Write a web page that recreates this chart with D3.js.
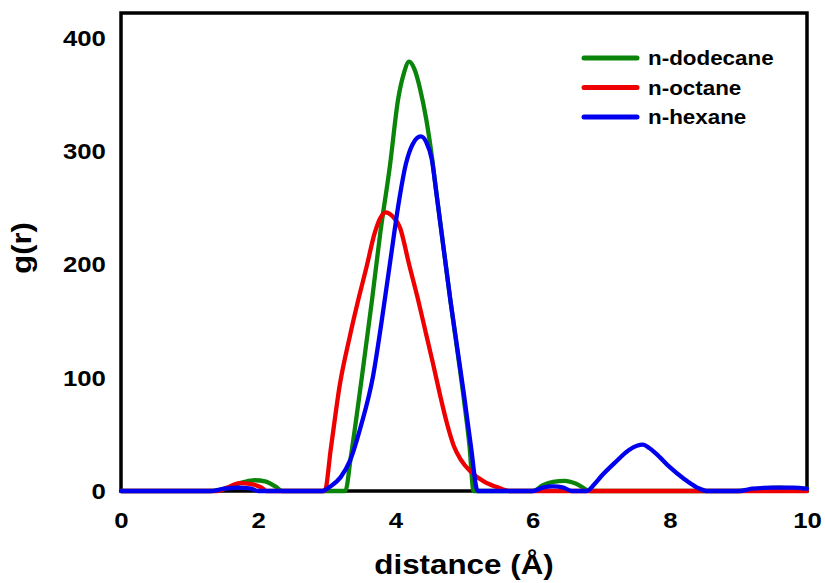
<!DOCTYPE html>
<html><head><meta charset="utf-8">
<script src="https://cdn.jsdelivr.net/npm/d3@7"></script>
<style>body{margin:0;background:#fff}svg{display:block}text{font-family:Arial,"Liberation Sans",sans-serif;font-weight:bold;fill:#000}</style>
</head><body>
<svg id="c" width="825" height="583"></svg>
<script>
// ---- data ----
const xTicks = [0, 2, 4, 6, 8, 10];
const yTicks = [0, 100, 200, 300, 400];
const seriesNames = ["n-dodecane", "n-octane", "n-hexane"];
const seriesColors = ["#0a850a", "#ee0000", "#0000ee"];

const dodecaneX = [0, 1.3, 1.45, 1.6, 1.8, 1.95, 2.1, 2.25, 2.35, 3.27, 3.35, 3.51, 3.66, 3.78, 3.92, 4.04, 4.12, 4.2, 4.28, 4.36, 4.45, 4.53, 4.6, 4.8, 5.0, 5.08, 5.14, 6.0, 6.15, 6.3, 6.47, 6.65, 6.84, 9.0, 9.3, 9.6, 9.9, 10];
const dodecaneY = [0, 0, 1, 4, 8, 9.5, 8.5, 4, 0, 0, 30, 100, 169, 228, 287, 346, 368, 379, 372, 355, 328, 296, 262, 169, 80, 40, 0, 0, 5, 8, 9, 6, 0, 0, 2, 3, 2, 2];

const octaneX = [0, 1.4, 1.55, 1.73, 1.9, 2.05, 2.12, 2.97, 3.06, 3.19, 3.33, 3.46, 3.58, 3.70, 3.78, 3.86, 3.95, 4.07, 4.2, 4.33, 4.45, 4.55, 4.65, 4.75, 4.85, 4.95, 5.1, 5.3, 5.5, 5.67, 10];
const octaneY = [0, 0, 3, 7, 6, 3, 0, 0, 38, 94, 135, 169, 198, 228, 241, 246, 243, 232, 200, 169, 138, 112, 85, 60, 40, 28, 17, 8, 3, 0, 0];

const hexaneX = [0, 1.3, 1.5, 1.7, 1.9, 2.0, 2.93, 3.05, 3.2, 3.34, 3.5, 3.67, 3.8, 3.93, 4.05, 4.15, 4.25, 4.37, 4.45, 4.53, 4.6, 4.8, 5.0, 5.1, 5.2, 6.0, 6.15, 6.3, 6.45, 6.57, 6.79, 6.9, 7.0, 7.2, 7.4, 7.52, 7.61, 7.7, 7.8, 8.0, 8.2, 8.4, 8.54, 9.0, 9.2, 9.5, 9.8, 10];
const hexaneY = [0, 0, 2, 3, 2, 0, 0, 4, 12, 27, 58, 100, 150, 205, 255, 288, 306, 313, 308, 293, 262, 169, 85, 40, 0, 0, 3, 4, 3, 0, 0, 6, 13, 25, 36, 40, 41, 38, 33, 21, 11, 3, 0, 0, 2, 3, 3, 2];

// ---- chart ----
const svg = d3.select("#c");
const L = 121, R = 807, T = 13, B = 491;
const x = d3.scaleLinear().domain([0, 10]).range([L, R]);
const y = d3.scaleLinear().domain([0, 422]).range([B, T]);

const seriesX = [dodecaneX, octaneX, hexaneX];
const seriesY = [dodecaneY, octaneY, hexaneY];

// frame
svg.append("rect").attr("x", L).attr("y", T).attr("width", R - L).attr("height", B - T)
  .attr("fill", "none").attr("stroke", "#000").attr("stroke-width", 3.5);

const FONT = "Arial, 'Liberation Sans', sans-serif";
// axes
const ax = svg.append("g").attr("transform", `translate(0,${B})`)
  .call(d3.axisBottom(x).tickValues(xTicks).tickSize(0).tickPadding(21).tickFormat(d3.format("d")));
ax.select(".domain").remove();
ax.selectAll("text").style("font-size", "23px").style("font-family", FONT).style("font-weight", "bold")
  .attr("fill", "#000").attr("transform", "scale(1.12,1)");

const ay = svg.append("g").attr("transform", `translate(${L},0)`)
  .call(d3.axisLeft(y).tickValues(yTicks).tickSize(0).tickPadding(13.5).tickFormat(d3.format("d")));
ay.select(".domain").remove();
ay.selectAll("text").style("font-size", "23px").style("font-family", FONT).style("font-weight", "bold")
  .attr("fill", "#000").attr("transform", "scale(1.12,1)");

// curves
const line = d3.line().x(d => x(d[0])).y(d => y(d[1])).curve(d3.curveMonotoneX);
seriesX.forEach((xs, i) => {
  const pts = xs.map((v, j) => [v, seriesY[i][j]]);
  svg.append("path").attr("d", line(pts)).attr("fill", "none")
    .attr("stroke", seriesColors[i]).attr("stroke-width", 4.3).attr("stroke-linejoin", "round").attr("stroke-linecap", "round");
});

// axis titles
svg.append("text").attr("transform", `translate(${(L + R) / 2},574) scale(1.12,1)`).attr("text-anchor", "middle")
  .style("font-size", "28px").text("distance (Å)");
svg.append("text").attr("transform", `translate(31,${(T + B) / 2 - 4}) rotate(-90) scale(1.1,1)`).attr("text-anchor", "middle")
  .style("font-size", "28px").text("g(r)");

// legend
const lg = svg.append("g");
seriesNames.forEach((n, i) => {
  const yy = 58 + i * 29.5;
  lg.append("line").attr("x1", 584).attr("x2", 637).attr("y1", yy).attr("y2", yy)
    .attr("stroke", seriesColors[i]).attr("stroke-width", 5).attr("stroke-linecap", "round");
  lg.append("text").attr("transform", `translate(648,${yy}) scale(1.12,1)`).attr("dy", "0.35em")
    .style("font-size", "20px").text(n);
});
</script>
</body></html>
